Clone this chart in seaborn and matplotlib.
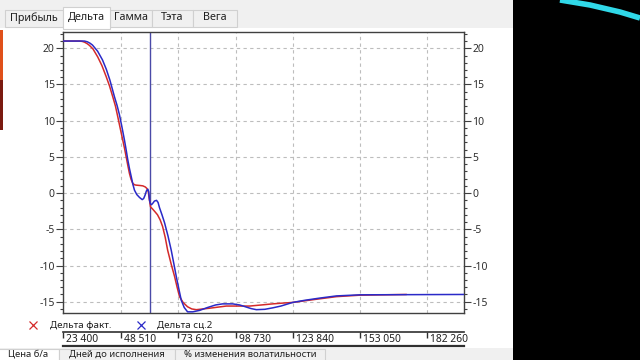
import numpy as np
import pandas as pd
import matplotlib
matplotlib.use("Agg")
import matplotlib.pyplot as plt
import seaborn as sns
from matplotlib.patches import Rectangle
from matplotlib.ticker import MultipleLocator
from matplotlib.transforms import blended_transform_factory

# ---------------- data ----------------
series_names = ["Дельта факт.", "Дельта сц.2"]

red_price = [23400, 28000, 30570, 31800, 32750, 33900, 34940, 36500, 38560, 40400,
             42230, 43700, 45120, 46300, 47300, 48400, 49490, 50300, 50970, 51700,
             52410, 53100, 53860, 54600, 55340, 57000, 58230, 59300, 59980, 60600,
             61160, 61590, 62500, 63600, 64650, 65800, 66850, 68000, 69080, 70600,
             72080, 73200, 74260, 75800, 77760, 79600, 81570, 84500, 87390, 91000,
             94670, 100000, 104870, 110000, 114900, 119000, 123620, 129500, 135450, 142740,
             152950, 163000, 173330]
red_delta = [21.0, 21.0, 21.0, 20.95, 20.85, 20.65, 20.4, 19.9, 18.8, 17.6,
             16.1, 14.8, 13.3, 12.0, 10.55, 8.9, 7.3, 6.1, 5.0, 3.8,
             2.7, 1.9, 1.35, 1.15, 1.1, 1.05, 1.0, 0.85, 0.65, 0.2,
             -1.0, -1.9, -2.2, -2.6, -3.0, -3.7, -4.6, -6.1, -7.9, -9.8,
             -11.5, -13.0, -14.3, -15.1, -15.7, -16.0, -16.1, -16.0, -15.9, -15.75,
             -15.6, -15.6, -15.6, -15.45, -15.3, -15.2, -15.1, -14.85, -14.6, -14.3,
             -14.1, -14.05, -14.0]

blue_price = [23400, 30000, 32750, 34000, 35200, 36250, 38500, 40620, 42300, 43870,
              45860, 47000, 48050, 49200, 50230, 51000, 51670, 52400, 53160, 53900,
              54600, 55600, 56790, 57970, 58600, 59200, 59800, 60410, 60800, 61160,
              61590, 62030, 62600, 63300, 64220, 64900, 65500, 66600, 67720, 69200,
              70640, 71800, 72820, 74000, 75010, 76300, 77760, 80000, 83010, 86500,
              90000, 93060, 97430, 100500, 103000, 105500, 107790, 111500, 114900, 118500,
              123620, 129000, 135450, 142740, 152950, 198370]
blue_delta = [21.0, 21.0, 21.0, 20.9, 20.7, 20.45, 19.6, 18.4, 17.1, 15.6,
              13.3, 12.1, 10.8, 9.0, 7.3, 5.9, 4.6, 3.4, 2.3, 1.2,
              0.4, -0.2, -0.6, -0.9, -0.75, -0.3, 0.3, 0.55, 0.2, -1.0,
              -1.5, -1.6, -1.4, -1.1, -1.0, -1.3, -2.0, -3.0, -4.1, -5.9,
              -7.9, -9.8, -11.5, -13.3, -14.8, -15.8, -16.4, -16.4, -16.2, -15.8,
              -15.45, -15.3, -15.3, -15.45, -15.7, -15.95, -16.1, -16.05, -15.85, -15.6,
              -15.1, -14.8, -14.5, -14.2, -14.05, -14.0]

price_ticks = [23400, 48510, 73620, 98730, 123840, 153050, 182260]
price_tick_labels = ["23 400", "48 510", "73 620", "98 730", "123 840", "153 050", "182 260"]
y_ticks = [-15, -10, -5, 0, 5, 10, 15, 20]
current_price = 61160

top_tabs = ["Прибыль", "Дельта", "Гамма", "Тэта", "Вега"]
bottom_tabs = ["Цена б/а", "Дней до исполнения", "% изменения волатильности"]

# ---------------- style ----------------
sns.set_style("white")
plt.rcParams["font.family"] = ["Noto Sans", "DejaVu Sans"]
plt.rcParams["axes.unicode_minus"] = False

W, H = 640, 360
fig = plt.figure(figsize=(6.4, 3.6), dpi=100)
fig.patch.set_facecolor("white")

RED = "#d42a2a"
BLUE = "#2a2ac8"

# background / window chrome in pixel coordinates
bg = fig.add_axes([0, 0, 1, 1])
bg.set_xlim(0, W)
bg.set_ylim(H, 0)
bg.axis("off")
bg.add_patch(Rectangle((0, 0), 513, 28, color="#f0f0f0", lw=0))
bg.add_patch(Rectangle((513, 0), 127, 360, color="black", lw=0))
bg.add_patch(Rectangle((0, 348), 513, 12, color="#f0f0f0", lw=0))
bg.add_patch(Rectangle((0, 30), 3, 50, color="#e0501a", lw=0))
bg.add_patch(Rectangle((0, 80), 3, 50, color="#7a1a10", lw=0))
bg.plot([560, 590, 620, 640], [0, 5, 12, 18], color="#30d8e8", lw=4, solid_capstyle="butt")

tab_edges = [(5, 63), (63, 110), (110, 152), (152, 193), (193, 237)]
for name, (x0, x1) in zip(top_tabs, tab_edges):
    if name == "Дельта":
        bg.add_patch(Rectangle((x0, 7), x1 - x0, 22, facecolor="white", edgecolor="#d0d0d0", lw=0.8, zorder=3))
        bg.text((x0 + x1) / 2, 17, name, ha="center", va="center", fontsize=7.8, color="#202020", zorder=4)
    else:
        bg.add_patch(Rectangle((x0, 10), x1 - x0, 17, facecolor="#f0f0f0", edgecolor="#d0d0d0", lw=0.8, zorder=2))
        bg.text((x0 + x1) / 2, 18, name, ha="center", va="center", fontsize=7.8, color="#202020", zorder=4)

btab_edges = [(-2, 59), (59, 175), (175, 325)]
for i, (name, (x0, x1)) in enumerate(zip(bottom_tabs, btab_edges)):
    fc = "white" if i == 0 else "#f0f0f0"
    bg.add_patch(Rectangle((x0, 349), x1 - x0, 14, facecolor=fc, edgecolor="#d0d0d0", lw=0.8))
    bg.text((x0 + x1) / 2, 354.5, name, ha="center", va="center", fontsize=6.8, color="#202020")

# legend
bg.plot([33], [325], marker="x", color=RED, ms=5.5, mew=0.9, ls="none")
bg.text(50, 325, series_names[0], va="center", ha="left", fontsize=7, color="#202020")
bg.plot([141], [325], marker="x", color=BLUE, ms=5.5, mew=0.9, ls="none")
bg.text(157, 325, series_names[1], va="center", ha="left", fontsize=7, color="#202020")

# ---------------- main chart ----------------
L, R, T, B = 63, 464, 32, 313
ax = fig.add_axes([L / W, 1 - B / H, (R - L) / W, (B - T) / H])
ax.set_facecolor("white")

df = pd.concat([
    pd.DataFrame({"price": red_price, "delta": red_delta, "series": series_names[0]}),
    pd.DataFrame({"price": blue_price, "delta": blue_delta, "series": series_names[1]}),
], ignore_index=True)

ax.axvline(current_price, color="#4a4aa8", lw=1.0, zorder=1)
sns.lineplot(data=df, x="price", y="delta", hue="series",
             palette={series_names[0]: RED, series_names[1]: BLUE},
             estimator=None, sort=False, legend=False, linewidth=1.1, ax=ax, zorder=3)

ax.set_xlim(23400, 198400)
ax.set_ylim(-16.56, 22.25)
ax.set_xticks(price_ticks)
ax.set_yticks(y_ticks)
ax.yaxis.set_minor_locator(MultipleLocator(1))
ax.set_xlabel("")
ax.set_ylabel("")
ax.tick_params(axis="x", which="both", bottom=False, top=False, labelbottom=False)
ax.tick_params(axis="y", which="both", direction="out", left=True, right=True,
               labelleft=True, labelright=True, labelsize=7.5, colors="#404040",
               labelcolor="#303030", width=0.8)
ax.tick_params(axis="y", which="major", length=5, pad=1)
ax.tick_params(axis="y", which="minor", length=2.5)
ax.grid(True, which="major", linestyle=(0, (3, 3)), color="#bdbdbd", linewidth=0.8)
for s in ax.spines.values():
    s.set_color("#404040")
    s.set_linewidth(1.0)

# ---------------- lower price axis ----------------
ax2 = fig.add_axes([L / W, 1 - 346 / H, (R - L) / W, 14 / H])
ax2.set_xlim(23400, 198400)
ax2.set_ylim(0, 1)
ax2.set_yticks([])
ax2.set_facecolor("white")
ax2.xaxis.tick_top()
ax2.set_xticks(price_ticks)
ax2.tick_params(axis="x", direction="in", length=4, width=1.0, colors="#303030", labeltop=False, labelbottom=False)
for side in ["left", "right"]:
    ax2.spines[side].set_visible(False)
ax2.spines["top"].set_linewidth(1.2)
ax2.spines["bottom"].set_linewidth(1.6)
ax2.spines["top"].set_color("#303030")
ax2.spines["bottom"].set_color("#303030")
tr = blended_transform_factory(ax2.transData, ax2.transAxes)
for v, lab in zip(price_ticks, price_tick_labels):
    ax2.annotate(lab, xy=(v, 0.45), xycoords=tr, xytext=(2.2, 0), textcoords="offset points",
                 ha="left", va="center", fontsize=7.4, color="#202020")

fig.savefig("out.png", dpi=100)
